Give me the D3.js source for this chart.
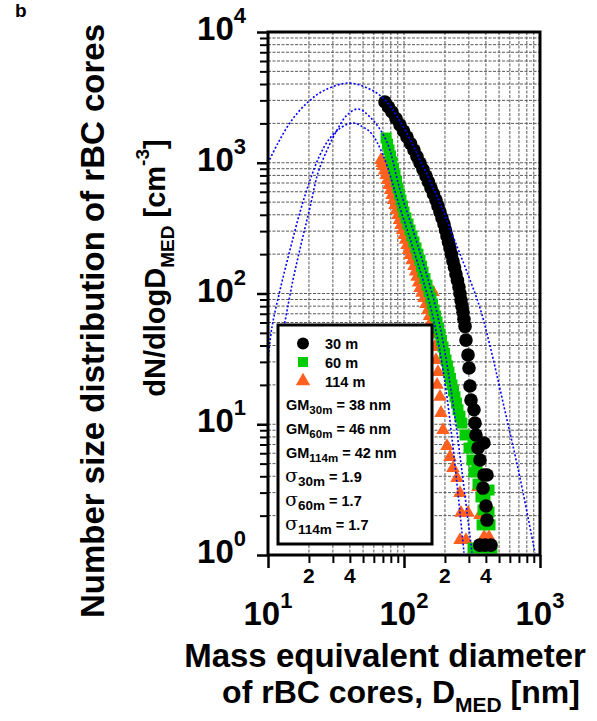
<!DOCTYPE html>
<html><head><meta charset="utf-8">
<script src="https://cdn.jsdelivr.net/npm/d3@7"></script>
<style>
html,body{margin:0;padding:0;background:#fff;}
svg{display:block;}
text{font-family:"Liberation Sans",Arial,Helvetica,sans-serif;font-weight:bold;fill:#000;}
</style></head>
<body>
<svg id="chart" width="597" height="721"></svg>
<script>
// ---------- data ----------
const d30 = [72.5, 76.9, 81.6, 87.3, 93.5, 99.2, 105.2, 111.6, 118.4, 124.6, 131.2, 138, 145.2, 151.5, 158, 164.8, 171.9, 177.8, 184, 190.3, 196.8, 201.8, 207, 212.3, 217.8, 223.3, 229, 235, 241, 247.2, 253.6, 258, 262.6, 267, 271.6, 276, 281, 285.6, 295.6, 300.6, 305.6, 311, 327, 332.6, 338, 350, 387, 362, 387, 407.6, 381, 401, 407.6, 394, 436, 360];
const n30 = [2915, 2670, 2445, 2180, 1944, 1749, 1574, 1404, 1252, 1116, 995, 888, 792, 712, 641, 577, 519, 467, 420, 378, 340, 306, 275, 248, 223, 199, 177, 159, 141, 126, 112, 100, 89, 80, 72, 63.5, 56, 44, 33.9, 26.9, 19.6, 15.3, 12.9, 10.2, 8.28, 6.58, 7.19, 5.33, 4.09, 4.09, 3.25, 2.37, 1.85, 1.19, 1.19, 1.19];

const d60 = [73.8, 75.7, 77.6, 79.6, 81.6, 83.7, 85.9, 88.1, 90.3, 92.6, 95, 97.5, 100, 103.4, 107, 110.7, 114.5, 118.4, 122.5, 126.7, 131, 134.5, 138, 142.7, 147.6, 152.7, 158, 162.1, 166.3, 170.6, 175, 179.4, 184, 188.7, 193.6, 198.6, 203.7, 208.8, 214, 219.6, 225.4, 231.1, 237, 243.2, 249.5, 258, 266.8, 281, 300.6, 321.6, 316, 327, 344, 350, 394, 422, 368, 381, 422, 429, 375, 321.6, 381, 443];
const n60 = [1546, 1391, 1252, 1127, 1014, 904, 806, 719, 641, 577, 519, 467, 420, 378, 340, 306, 275, 248, 223, 200, 180, 162, 146, 130, 116, 103.5, 92.4, 83.1, 74.8, 67.3, 60.5, 54.5, 49, 43.7, 39, 34.8, 31, 27.9, 25.1, 22.4, 20, 18, 16.2, 14.5, 12.9, 11.5, 10.2, 8.28, 6.58, 7.59, 5.33, 4.31, 4.88, 3.49, 2.64, 3.14, 2.78, 2.21, 2.13, 1.70, 1.70, 1.13, 1.13, 1.13];

const d114 = [67.7, 68.9, 70.1, 71.9, 73.8, 75.7, 77.6, 79.6, 81.6, 83.7, 85.9, 88.1, 90.3, 92.6, 95, 97.5, 100, 102.6, 105.2, 107.9, 110.7, 114.5, 118.4, 121.5, 124.7, 127.9, 131.2, 135.7, 140.3, 145, 163.4, 150, 154, 158, 162, 166.3, 169, 171.9, 177.8, 175, 184, 187, 193.6, 207, 217.8, 229, 245.4, 258, 350, 262.6, 295.6, 362, 258, 285.6, 387, 422];
const n114 = [1050, 996, 944, 872, 806, 738, 676, 619, 566, 518, 475, 435, 398, 365, 334, 306, 280, 257, 235, 215, 197, 179, 162, 147, 134, 121, 110, 101, 92.4, 83, 102.6, 74.8, 67.3, 60.5, 54.4, 49, 39, 31, 25.1, 20, 16.2, 12.2, 9.04, 6.82, 5.62, 4.63, 3.88, 2.98, 3.31, 2.10, 2.10, 2.02, 1.30, 1.30, 1.37, 1.37];

// lognormal fit curves
const fitD30 = [10, 11.85, 15.0, 19.7, 26.2, 38.7, 51.6, 68.9, 93.5, 131.2, 184, 229, 290.6, 362, 429, 534, 713, 918];
const fitN30 = [995, 1416, 2123, 2915, 3600, 4070, 3796, 3183, 2086, 1050, 492, 275, 146, 77.4, 39.7, 14.8, 3.88, 1.04];
const fitD60 = [13.1, 15.27, 17.8, 20.4, 23.3, 27.2, 32.2, 38.1, 45.9, 56.2, 73.8, 93.5, 124.7, 175, 221.6, 316];
const fitN60 = [55.4, 127, 256, 459, 835, 1252, 1780, 2317, 2577, 2239, 1493, 619, 243, 71, 18.3, 1.04];
const fitD114 = [10, 10.7, 12.25, 14.5, 17.2, 20.4, 24.1, 28.6, 35, 42.2, 49.9, 57.2, 70.1, 93.5, 116.4, 160.7, 203.7, 276];
const fitN114 = [31, 55.4, 106, 215, 420, 738, 1146, 1546, 1877, 2014, 1877, 1689, 1146, 451, 223, 71, 18.3, 1.04];

const seriesNames = ["30 m", "60 m", "114 m"];
const seriesColors = ["#000000", "#00cc00", "#ff6020"];
const gmLabels = ["30m", "60m", "114m"];
const gmValues = ["38 nm", "46 nm", "42 nm"];
const sigmaValues = ["1.9", "1.7", "1.7"];

const xMajorTicks = [10, 100, 1000];
const xMajorExp = ["1", "2", "3"];
const yMajorTicks = [1, 10, 100, 1000, 10000];
const yMajorExp = ["0", "1", "2", "3", "4"];
const minorMult = [2, 3, 4, 5, 6, 7, 8, 9];
const xMinorLabelValues = [20, 40, 200, 400];
const xMinorLabels = ["2", "4", "2", "4"];

// ---------- setup ----------
const svg = d3.select("#chart");
const L = 268, R = 540, T = 32, B = 555;
const x = d3.scaleLog().domain([10, 1000]).range([L, R]);
const y = d3.scaleLog().domain([1, 10000]).range([B, T]);

const xMinor = [], yMinor = [];
xMajorTicks.slice(0, -1).forEach(d => minorMult.forEach(m => xMinor.push(d * m)));
yMajorTicks.slice(0, -1).forEach(d => minorMult.forEach(m => yMinor.push(d * m)));

svg.append("defs").append("clipPath").attr("id", "plotclip")
  .append("rect").attr("x", L).attr("y", T).attr("width", R - L).attr("height", B - T);

// grid
const grid = svg.append("g").attr("stroke", "#3c3c3c").attr("stroke-width", 1).attr("stroke-dasharray", "3,1.5").attr("opacity", 0.85);
grid.selectAll(".gx").data(xMinor.concat([100])).join("line")
  .attr("x1", d => x(d)).attr("x2", d => x(d)).attr("y1", T).attr("y2", B);
grid.selectAll(".gy").data(yMinor.concat([10, 100, 1000])).join("line")
  .attr("y1", d => y(d)).attr("y2", d => y(d)).attr("x1", L).attr("x2", R);

// data
const plot = svg.append("g").attr("clip-path", "url(#plotclip)");
const tri = d3.symbol().type(d3.symbolTriangle).size(80);
plot.append("g").selectAll("path").data(d114.map((d, i) => [d, n114[i]])).join("path")
  .attr("d", tri).attr("transform", d => `translate(${x(d[0])},${y(d[1])})`)
  .attr("fill", seriesColors[2]);
plot.append("g").selectAll("rect").data(d60.map((d, i) => [d, n60[i]])).join("rect")
  .attr("x", d => x(d[0]) - 5.5).attr("y", d => y(d[1]) - 5.5).attr("width", 11).attr("height", 11)
  .attr("fill", seriesColors[1]);
plot.append("g").selectAll("circle").data(d30.map((d, i) => [d, n30[i]])).join("circle")
  .attr("cx", d => x(d[0])).attr("cy", d => y(d[1])).attr("r", 6.8)
  .attr("fill", seriesColors[0]);

// fit curves
const line = d3.line().x(d => x(d[0])).y(d => y(d[1])).curve(d3.curveCatmullRom.alpha(0.5));
[[fitD30, fitN30], [fitD60, fitN60], [fitD114, fitN114]].forEach(([dd, nn]) => {
  plot.append("path").datum(dd.map((d, i) => [d, nn[i]]))
    .attr("d", line).attr("fill", "none").attr("stroke", "#0000ff")
    .attr("stroke-width", 1.6).attr("stroke-dasharray", "2,2");
});

// legend
const lg = svg.append("g");
lg.append("rect").attr("x", 278).attr("y", 325).attr("width", 154).attr("height", 219)
  .attr("fill", "#fff").attr("stroke", "#000").attr("stroke-width", 3);
const rowY = [343.5, 362, 381];
lg.append("circle").attr("cx", 303).attr("cy", rowY[0]).attr("r", 6).attr("fill", seriesColors[0]);
lg.append("rect").attr("x", 298).attr("y", rowY[1] - 5).attr("width", 10).attr("height", 10).attr("fill", seriesColors[1]);
lg.append("path").attr("d", d3.symbol().type(d3.symbolTriangle).size(90)).attr("transform", `translate(303,${rowY[2]})`).attr("fill", seriesColors[2]);
seriesNames.forEach((s, i) => {
  lg.append("text").attr("x", 325).attr("y", rowY[i] + 5.5).attr("font-size", 14.5).text(s);
});
const gmY = [409.5, 433.5, 457.5];
gmLabels.forEach((g, i) => {
  const t = lg.append("text").attr("x", 286).attr("y", gmY[i]).attr("font-size", 14.5);
  t.append("tspan").text("GM");
  t.append("tspan").attr("font-size", 11.5).attr("dy", 4.5).text(g);
  t.append("tspan").attr("dy", -4.5).text(" = " + gmValues[i]);
});
const sgY = [482, 506, 530];
gmLabels.forEach((g, i) => {
  const t = lg.append("text").attr("x", 285).attr("y", sgY[i]).attr("font-size", 14.5);
  t.append("tspan").attr("font-weight", "normal").attr("font-size", 19).attr("font-family", "DejaVu Serif").text("σ");
  t.append("tspan").attr("font-size", 13.5).attr("dy", 4).text(g);
  t.append("tspan").attr("dy", -4).text(" = " + sigmaValues[i]);
});

// axes ticks
const ax = svg.append("g");
ax.append("g").attr("transform", `translate(0,${B})`)
  .call(d3.axisBottom(x).tickValues(xMinor).tickSize(8).tickFormat(""))
  .call(g => g.select(".domain").remove())
  .call(g => g.selectAll("line").attr("stroke-width", 2));
ax.append("g").attr("transform", `translate(0,${B})`)
  .call(d3.axisBottom(x).tickValues(xMajorTicks).tickSize(13).tickFormat(""))
  .call(g => g.select(".domain").remove())
  .call(g => g.selectAll("line").attr("stroke-width", 2.5));
ax.append("g").attr("transform", `translate(${L},0)`)
  .call(d3.axisLeft(y).tickValues(yMinor).tickSize(8).tickFormat(""))
  .call(g => g.select(".domain").remove())
  .call(g => g.selectAll("line").attr("stroke-width", 2));
ax.append("g").attr("transform", `translate(${L},0)`)
  .call(d3.axisLeft(y).tickValues(yMajorTicks).tickSize(11).tickFormat(""))
  .call(g => g.select(".domain").remove())
  .call(g => g.selectAll("line").attr("stroke-width", 2.5));

// frame
svg.append("rect").attr("x", L).attr("y", T).attr("width", R - L).attr("height", B - T)
  .attr("fill", "none").attr("stroke", "#000").attr("stroke-width", 3);

// tick labels
yMajorTicks.forEach((v, i) => {
  const t = svg.append("text").attr("x", 246).attr("y", y(v) + 8).attr("text-anchor", "end").attr("font-size", 33);
  t.append("tspan").text("10");
  t.append("tspan").attr("font-size", 22).attr("dy", -17).text(yMajorExp[i]);
});
xMajorTicks.forEach((v, i) => {
  const t = svg.append("text").attr("x", x(v)).attr("y", 625).attr("text-anchor", "middle").attr("font-size", 33);
  t.append("tspan").text("10");
  t.append("tspan").attr("font-size", 22).attr("dy", -17).text(xMajorExp[i]);
});
xMinorLabelValues.forEach((v, i) => {
  svg.append("text").attr("x", x(v)).attr("y", 583).attr("text-anchor", "middle").attr("font-size", 21).text(xMinorLabels[i]);
});

// axis titles
svg.append("text").attr("transform", "translate(104,321) rotate(-90)")
  .attr("text-anchor", "middle").attr("font-size", 33).text("Number size distribution of rBC cores");
const yt2 = svg.append("text").attr("transform", "translate(165,268) rotate(-90)")
  .attr("text-anchor", "middle").attr("font-size", 29);
yt2.append("tspan").text("dN/dlogD");
yt2.append("tspan").attr("font-size", 19).attr("dy", 9).text("MED");
yt2.append("tspan").attr("dy", -9).text(" [cm");
yt2.append("tspan").attr("font-size", 19).attr("dy", -16).text("-3");
yt2.append("tspan").attr("dy", 16).text("]");

svg.append("text").attr("x", 385).attr("y", 667).attr("text-anchor", "middle").attr("font-size", 33)
  .text("Mass equivalent diameter");
const xt2 = svg.append("text").attr("x", 401).attr("y", 703).attr("text-anchor", "middle").attr("font-size", 32);
xt2.append("tspan").text("of rBC cores, D");
xt2.append("tspan").attr("font-size", 21).attr("dy", 9).text("MED");
xt2.append("tspan").attr("dy", -9).text(" [nm]");

svg.append("text").attr("x", 15).attr("y", 17).attr("font-size", 19)
  .attr("font-family", "Liberation Serif, serif").text("b");
</script>
</body></html>
